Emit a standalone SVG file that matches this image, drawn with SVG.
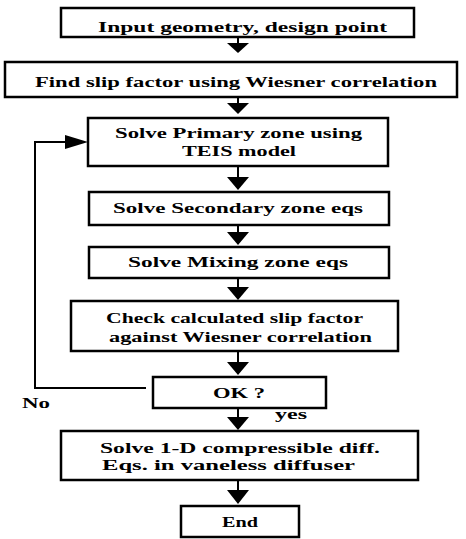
<svg xmlns="http://www.w3.org/2000/svg" width="466" height="539" viewBox="0 0 466 539">
<defs>
<style>
.box{fill:#fff;stroke:#000;stroke-width:2.5}
.ln{fill:none;stroke:#000;stroke-width:2}
.ah{fill:#000}
text{font-family:"Liberation Serif","Times New Roman",serif;font-weight:bold;font-size:15px;fill:#000}
</style>
</defs>
<rect width="466" height="539" fill="#fff"/>
<g id="connectors">
<line class="ln" x1="238" y1="37" x2="238" y2="44"/><polygon class="ah" points="227,43 249,43 238,53"/>
<line class="ln" x1="238" y1="97" x2="238" y2="104"/><polygon class="ah" points="227,103 249,103 238,114"/>
<line class="ln" x1="238" y1="166" x2="238" y2="178"/><polygon class="ah" points="227,177 249,177 238,190"/>
<line class="ln" x1="238" y1="225" x2="238" y2="233"/><polygon class="ah" points="227,232 249,232 238,245"/>
<line class="ln" x1="238" y1="278" x2="238" y2="288"/><polygon class="ah" points="227,287 249,287 238,300"/>
<line class="ln" x1="238" y1="351" x2="238" y2="363"/><polygon class="ah" points="227,362 249,362 238,375"/>
<line class="ln" x1="238" y1="408" x2="238" y2="418"/><polygon class="ah" points="227,417 249,417 238,430"/>
<line class="ln" x1="238" y1="480" x2="238" y2="491"/><polygon class="ah" points="227,490 249,490 238,504"/>
<polyline class="ln" points="146,388 35,388 35,142 68,142"/>
<polygon class="ah" points="65,135 88,142 65,149"/>
<text x="22" y="408" textLength="28" lengthAdjust="spacingAndGlyphs">No</text>
<text x="275" y="419" textLength="32" lengthAdjust="spacingAndGlyphs">yes</text>
</g>
<g id="n1"><rect class="box" x="61" y="8" width="353" height="29"/>
<text x="98" y="32" textLength="289" lengthAdjust="spacingAndGlyphs">Input geometry, design point</text></g>
<g id="n2"><rect class="box" x="5" y="62" width="452" height="35"/>
<text x="35" y="87" textLength="402" lengthAdjust="spacingAndGlyphs">Find slip factor using Wiesner correlation</text></g>
<g id="n3"><rect class="box" x="88" y="118" width="300" height="48"/>
<text x="115" y="138" textLength="247" lengthAdjust="spacingAndGlyphs">Solve Primary zone using</text>
<text x="182" y="156" textLength="114" lengthAdjust="spacingAndGlyphs">TEIS model</text></g>
<g id="n4"><rect class="box" x="89" y="192" width="300" height="33"/>
<text x="113" y="213" textLength="250" lengthAdjust="spacingAndGlyphs">Solve Secondary zone eqs</text></g>
<g id="n5"><rect class="box" x="89" y="247" width="300" height="31"/>
<text x="128" y="267" textLength="220" lengthAdjust="spacingAndGlyphs">Solve Mixing zone eqs</text></g>
<g id="n6"><rect class="box" x="71" y="301" width="327" height="50"/>
<text x="106" y="323" textLength="257" lengthAdjust="spacingAndGlyphs">Check calculated slip factor</text>
<text x="109" y="342" textLength="263" lengthAdjust="spacingAndGlyphs">against Wiesner correlation</text></g>
<g id="n7"><rect class="box" x="153" y="377" width="173" height="31"/>
<text x="213" y="398" textLength="52" lengthAdjust="spacingAndGlyphs">OK ?</text></g>
<g id="n8"><rect class="box" x="61" y="431" width="357" height="49"/>
<text x="100" y="453" textLength="280" lengthAdjust="spacingAndGlyphs">Solve 1-D compressible diff.</text>
<text x="102" y="470" textLength="253" lengthAdjust="spacingAndGlyphs">Eqs. in vaneless diffuser</text></g>
<g id="n9"><rect class="box" x="181" y="506" width="118" height="31"/>
<text x="222" y="527" textLength="36" lengthAdjust="spacingAndGlyphs">End</text></g>
</svg>
